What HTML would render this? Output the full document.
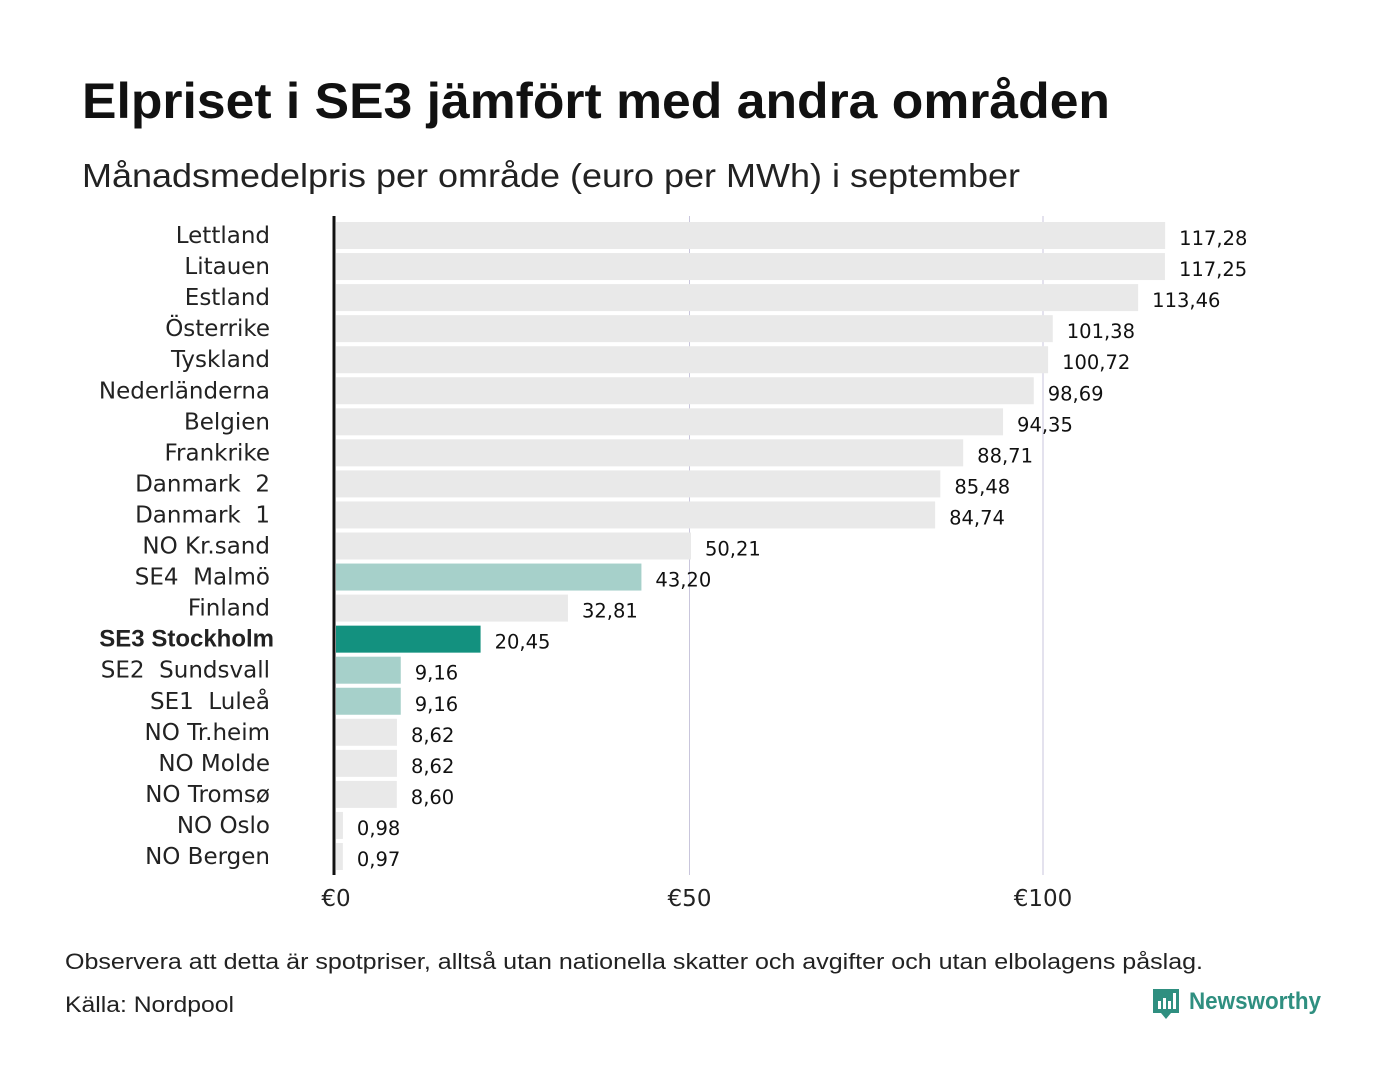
<!DOCTYPE html>
<html><head><meta charset="utf-8"><style>
body{margin:0;width:1400px;height:1080px;background:#fff;font-family:"Liberation Sans","DejaVu Sans",sans-serif;overflow:hidden}
</style></head><body>
<svg width="1400" height="1080">
<text x="82" y="118" font-size="50" font-weight="bold" fill="#111" textLength="1028" lengthAdjust="spacingAndGlyphs">Elpriset i SE3 jämfört med andra områden</text>
<text x="82" y="187" font-size="33" fill="#222" textLength="938" lengthAdjust="spacingAndGlyphs">Månadsmedelpris per område (euro per MWh) i september</text>
<g id="grid"></g>
<g id="bars"></g>
<line x1="334" y1="216" x2="334" y2="875" stroke="#111" stroke-width="3"/>
<g id="ticks"></g>
<text x="65" y="969" font-size="22" fill="#222" textLength="1138" lengthAdjust="spacingAndGlyphs">Observera att detta är spotpriser, alltså utan nationella skatter och avgifter och utan elbolagens påslag.</text>
<text x="65" y="1012" font-size="22" fill="#222" textLength="169" lengthAdjust="spacingAndGlyphs">Källa: Nordpool</text>
<g>
<path d="M1153 989 h26 v24 h-8 l-5 6 l-5 -6 h-8 z" fill="#2f8f80"/>
<rect x="1158" y="1001" width="3" height="8" fill="#fff"/><rect x="1163" y="998" width="3" height="11" fill="#fff"/><rect x="1168" y="1001" width="3" height="8" fill="#fff"/><rect x="1173" y="993" width="3" height="16" fill="#fff"/>
<text x="1189" y="1009" font-size="24" font-weight="bold" fill="#2f8f80" textLength="132" lengthAdjust="spacingAndGlyphs">Newsworthy</text>
</g>
</svg>
<script>
const categories=["Lettland","Litauen","Estland","Österrike","Tyskland","Nederländerna","Belgien","Frankrike","Danmark  2","Danmark  1","NO Kr.sand","SE4  Malmö","Finland","SE3 Stockholm","SE2  Sundsvall","SE1  Luleå","NO Tr.heim","NO Molde","NO Tromsø","NO Oslo","NO Bergen"];
const values=[117.28,117.25,113.46,101.38,100.72,98.69,94.35,88.71,85.48,84.74,50.21,43.20,32.81,20.45,9.16,9.16,8.62,8.62,8.60,0.98,0.97];
const printed=["117,28","117,25","113,46","101,38","100,72","98,69","94,35","88,71","85,48","84,74","50,21","43,20","32,81","20,45","9,16","9,16","8,62","8,62","8,60","0,98","0,97"];
const tickValues=[0,50,100];
const tickLabels=["€0","€50","€100"];
const kinds=["o","o","o","o","o","o","o","o","o","o","o","s","o","h","s","s","o","o","o","o","o"];
const NS="http://www.w3.org/2000/svg";
const x=v=>336+v*7.07;
const y=i=>222+i*31.05;
const colors={o:"#e9e9e9",s:"#a6d0ca",h:"#13917f"};
const DJ='"DejaVu Sans",sans-serif';
function mk(t,a,p){const e=document.createElementNS(NS,t);for(const k in a)e.setAttribute(k,a[k]);p.appendChild(e);return e;}
const G=document.getElementById("grid"),B=document.getElementById("bars"),T=document.getElementById("ticks");
tickValues.forEach((v,i)=>{
 if(v>0){const l=mk("line",{x1:x(v),x2:x(v),y1:216,y2:875,stroke:"#c9c6dc","stroke-width":1},G);
 
 }
 const t=mk("text",{x:x(v),y:906,"font-size":23,"text-anchor":"middle",fill:"#222","font-family":DJ},T);t.textContent=tickLabels[i];
 
 
});
categories.forEach((c,i)=>{
 const r=mk("rect",{x:336,y:y(i),width:Math.max(values[i]*7.07,1),height:27,fill:colors[kinds[i]]},B);
 
 
 const l=mk("text",{x:270,y:y(i)+21,"font-size":23,"text-anchor":"end",fill:"#222","font-family":DJ},B);
 if(kinds[i]==="h"){l.setAttribute("font-weight","bold");l.setAttribute("x",274);l.setAttribute("font-family",'"Liberation Sans",sans-serif');l.setAttribute("font-size",24);}
 l.textContent=c;
 l.style.whiteSpace="pre";
 
 
 const v=mk("text",{x:x(values[i])+14,y:y(i)+23,"font-size":19.5,fill:"#111","font-family":DJ},B);v.textContent=printed[i];
 
 
});
</script>
</body></html>
